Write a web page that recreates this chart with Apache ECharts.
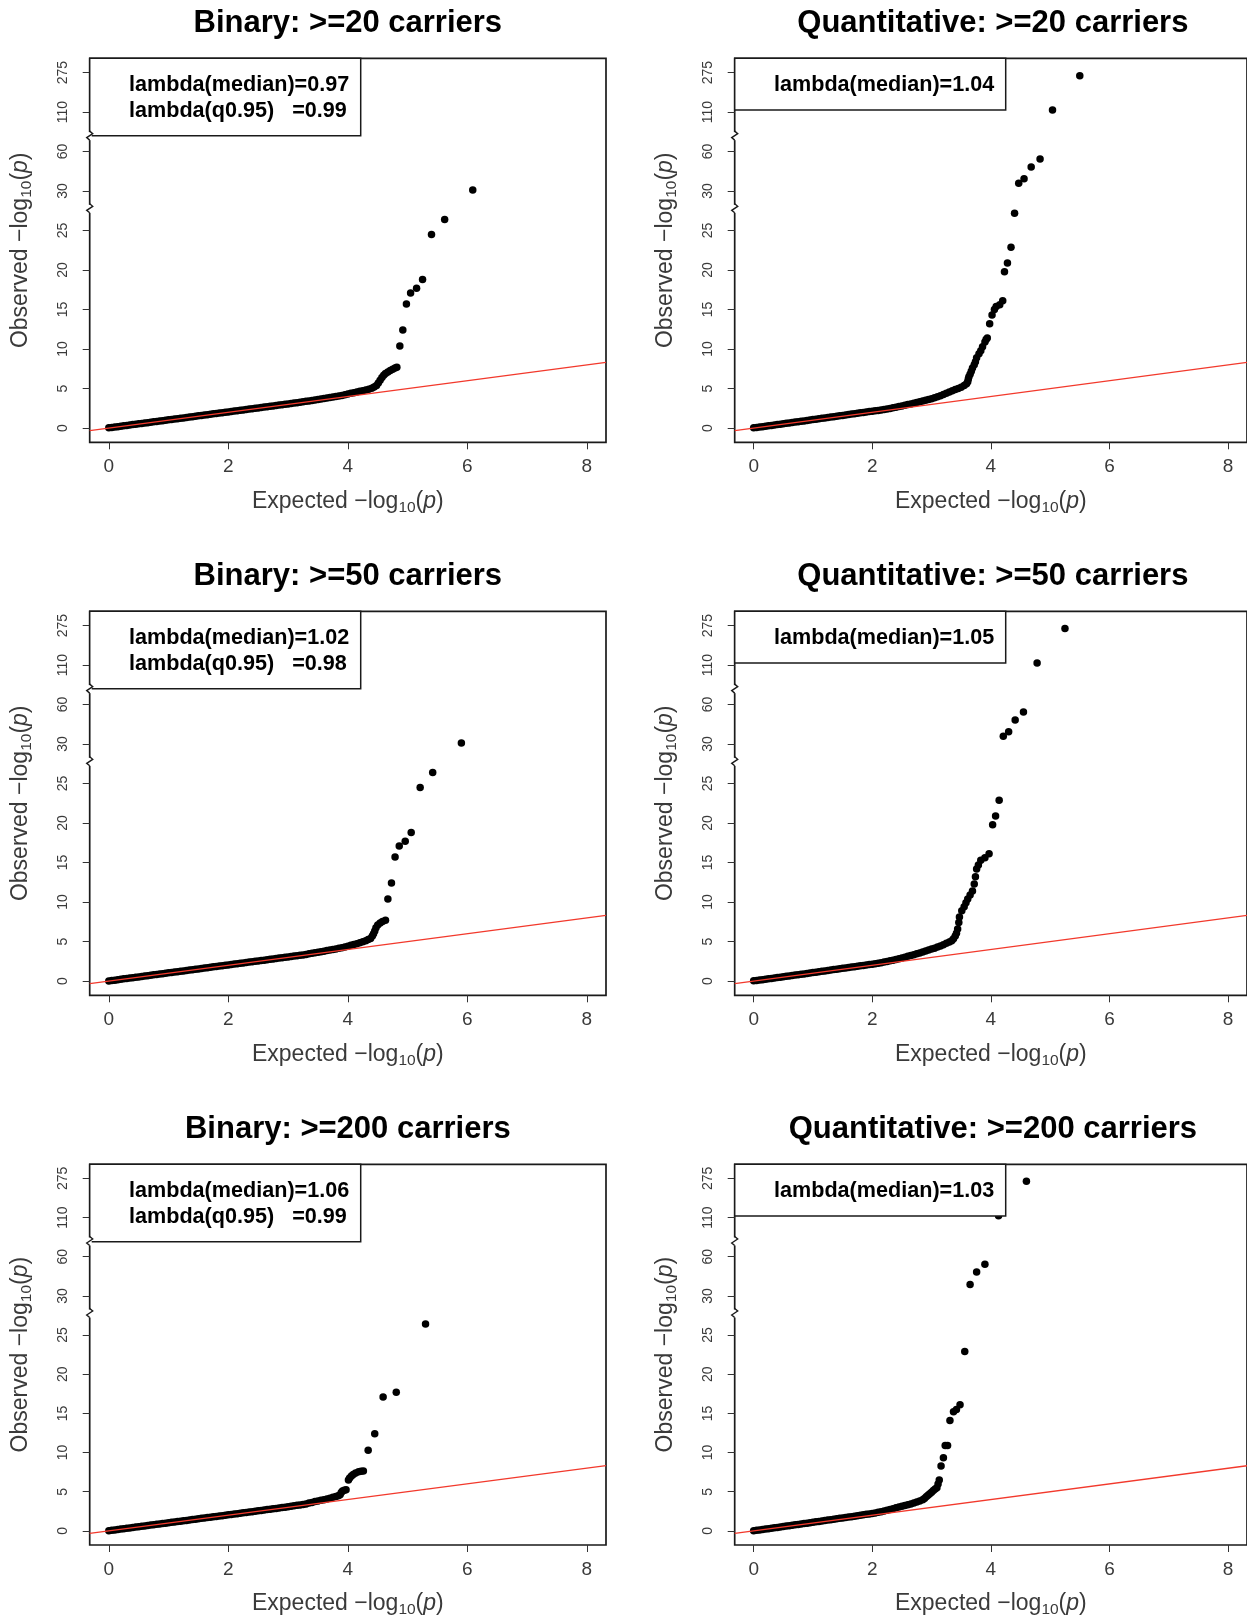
<!DOCTYPE html>
<html>
<head>
<meta charset="utf-8">
<script src="https://cdn.jsdelivr.net/npm/echarts@6/dist/echarts.min.js"></script>
<style>html,body{margin:0;padding:0;background:#fff}#main{width:1247px;height:1619px}</style>
</head>
<body>
<div id="main"></div>
<script>
// ---------- data ----------
const xTickValues = [0, 2, 4, 6, 8];
const yTickLabels = ['0', '5', '10', '15', '20', '25', '30', '60', '110', '275'];
const panelTitles = ['Binary: >=20 carriers', 'Quantitative: >=20 carriers',
  'Binary: >=50 carriers', 'Quantitative: >=50 carriers',
  'Binary: >=200 carriers', 'Quantitative: >=200 carriers'];
const lambdaMedian = ['0.97', '1.04', '1.02', '1.05', '1.06', '1.03'];
const lambdaQ95 = ['0.99', null, '0.98', null, '0.99', null];
const refLine = [[-0.32, -0.32], [8.32, 8.32]];

// [expected -log10 p, observed -log10 p]
const bin20 = [[0,0.03],[0.05,0.08],[0.1,0.13],[0.15,0.18],[0.2,0.23],[0.25,0.28],[0.3,0.33],[0.35,0.38],[0.4,0.44],[0.45,0.49],[0.5,0.54],[0.55,0.59],[0.6,0.64],[0.65,0.69],[0.7,0.74],[0.75,0.79],[0.8,0.84],[0.85,0.89],[0.9,0.94],[0.95,0.99],[1,1.04],[1.05,1.09],[1.1,1.14],[1.15,1.19],[1.2,1.24],[1.25,1.29],[1.3,1.34],[1.35,1.39],[1.4,1.44],[1.45,1.5],[1.5,1.55],[1.55,1.6],[1.6,1.65],[1.65,1.7],[1.7,1.75],[1.75,1.8],[1.8,1.85],[1.85,1.9],[1.9,1.95],[1.95,2],[2,2.05],[2.05,2.1],[2.1,2.15],[2.15,2.2],[2.2,2.25],[2.25,2.3],[2.3,2.35],[2.35,2.4],[2.4,2.45],[2.45,2.5],[2.5,2.55],[2.55,2.6],[2.6,2.66],[2.65,2.71],[2.7,2.76],[2.75,2.81],[2.8,2.86],[2.85,2.91],[2.9,2.96],[2.95,3.01],[3,3.06],[3.05,3.11],[3.1,3.16],[3.15,3.21],[3.2,3.26],
  [3.25,3.32],[3.3,3.38],[3.35,3.44],[3.4,3.5],[3.45,3.56],[3.5,3.62],[3.55,3.68],[3.6,3.74],[3.65,3.8],[3.7,3.86],[3.75,3.92],[3.8,3.99],[3.85,4.06],[3.9,4.13],[3.95,4.21],[4,4.3],[4.05,4.4],[4.1,4.48],[4.15,4.56],[4.2,4.65],[4.25,4.74],[4.3,4.83],[4.35,4.92],[4.4,5.05],[4.44,5.2],[4.48,5.4],[4.51,5.7],[4.54,6.05],[4.57,6.4],[4.6,6.7],[4.63,6.9],[4.67,7.1],[4.71,7.3],[4.75,7.45],[4.79,7.6],[4.82,7.7],
  [4.87,10.4],[4.92,12.4],[4.98,15.7],[5.05,17.1],[5.15,17.7],[5.25,18.8],[5.4,24.5],[5.62,26.4],[6.09,30.8]];

const bin50 = [[0,0.02],[0.05,0.07],[0.1,0.12],[0.15,0.17],[0.2,0.22],[0.25,0.28],[0.3,0.33],[0.35,0.38],[0.4,0.43],[0.45,0.48],[0.5,0.53],[0.55,0.58],[0.6,0.63],[0.65,0.68],[0.7,0.74],[0.75,0.79],[0.8,0.84],[0.85,0.89],[0.9,0.94],[0.95,0.99],[1,1.04],[1.05,1.09],[1.1,1.14],[1.15,1.19],[1.2,1.24],[1.25,1.29],[1.3,1.34],[1.35,1.39],[1.4,1.44],[1.45,1.49],[1.5,1.54],[1.55,1.6],[1.6,1.65],[1.65,1.7],[1.7,1.75],[1.75,1.8],[1.8,1.85],[1.85,1.9],[1.9,1.95],[1.95,2],[2,2.05],[2.05,2.1],[2.1,2.15],[2.15,2.2],[2.2,2.25],[2.25,2.3],[2.3,2.35],[2.35,2.4],[2.4,2.45],[2.45,2.5],[2.5,2.55],[2.55,2.6],[2.6,2.65],[2.65,2.7],[2.7,2.76],[2.75,2.81],[2.8,2.86],[2.85,2.91],[2.9,2.96],[2.95,3.01],[3,3.06],[3.05,3.11],[3.1,3.16],[3.15,3.21],[3.2,3.26],
  [3.25,3.31],[3.3,3.37],[3.35,3.45],[3.4,3.52],[3.45,3.58],[3.5,3.64],[3.55,3.7],[3.6,3.78],[3.65,3.86],[3.7,3.93],[3.75,4],[3.8,4.07],[3.85,4.14],[3.9,4.22],[3.95,4.32],[4,4.42],[4.05,4.52],[4.1,4.62],[4.15,4.74],[4.2,4.86],[4.25,4.98],[4.3,5.1],[4.34,5.25],[4.38,5.4],[4.41,5.7],[4.43,6],[4.45,6.35],[4.47,6.75],[4.5,7.1],[4.54,7.35],[4.58,7.55],[4.63,7.7],
  [4.67,10.4],[4.73,12.4],[4.79,15.7],[4.86,17.1],[4.96,17.7],[5.06,18.8],[5.21,24.5],[5.42,26.4],[5.9,30.8]];

const bin200 = [[0,0.03],[0.05,0.08],[0.1,0.13],[0.15,0.18],[0.2,0.23],[0.25,0.28],[0.3,0.33],[0.35,0.38],[0.4,0.43],[0.45,0.49],[0.5,0.54],[0.55,0.59],[0.6,0.64],[0.65,0.69],[0.7,0.74],[0.75,0.79],[0.8,0.84],[0.85,0.89],[0.9,0.94],[0.95,0.99],[1,1.04],[1.05,1.09],[1.1,1.14],[1.15,1.19],[1.2,1.24],[1.25,1.29],[1.3,1.34],[1.35,1.39],[1.4,1.45],[1.45,1.5],[1.5,1.55],[1.55,1.6],[1.6,1.65],[1.65,1.7],[1.7,1.75],[1.75,1.8],[1.8,1.85],[1.85,1.9],[1.9,1.95],[1.95,2],[2,2.05],[2.05,2.1],[2.1,2.15],[2.15,2.2],[2.2,2.26],[2.25,2.31],[2.3,2.36],[2.35,2.41],[2.4,2.46],[2.45,2.51],[2.5,2.56],[2.55,2.61],[2.6,2.67],[2.65,2.72],[2.7,2.77],[2.75,2.82],[2.8,2.87],[2.85,2.92],[2.9,2.98],[2.95,3.03],[3,3.09],[3.05,3.14],[3.1,3.2],[3.15,3.26],[3.2,3.31],
  [3.25,3.36],[3.3,3.45],[3.35,3.56],[3.4,3.64],[3.45,3.74],[3.5,3.82],[3.55,3.9],[3.6,3.98],[3.65,4.08],[3.7,4.18],[3.75,4.28],[3.8,4.38],[3.84,4.48],[3.87,4.62],[3.89,4.9],[3.91,5.1],[3.94,5.2],[3.97,5.25],[4.01,6.5],[4.03,6.75],[4.06,7],[4.09,7.2],[4.13,7.4],[4.18,7.55],[4.22,7.6],[4.26,7.65],
  [4.34,10.3],[4.45,12.4],[4.59,17.1],[4.81,17.7],[5.3,26.4]];

const quant20 = [[0,0.03],[0.05,0.08],[0.1,0.13],[0.15,0.18],[0.2,0.23],[0.25,0.29],[0.3,0.34],[0.35,0.39],[0.4,0.44],[0.45,0.49],[0.5,0.55],[0.55,0.6],[0.6,0.65],[0.65,0.7],[0.7,0.76],[0.75,0.81],[0.8,0.86],[0.85,0.91],[0.9,0.97],[0.95,1.02],[1,1.07],[1.05,1.12],[1.1,1.18],[1.15,1.23],[1.2,1.28],[1.25,1.34],[1.3,1.39],[1.35,1.44],[1.4,1.5],[1.45,1.55],[1.5,1.6],[1.55,1.66],[1.6,1.71],[1.65,1.77],[1.7,1.82],[1.75,1.87],[1.8,1.93],[1.85,1.98],[1.9,2.03],[1.95,2.09],[2,2.14],
  [2.05,2.19],[2.1,2.24],[2.15,2.29],[2.2,2.35],[2.25,2.41],[2.3,2.48],[2.35,2.56],[2.4,2.64],[2.45,2.72],[2.5,2.8],[2.55,2.88],[2.6,2.97],[2.65,3.06],[2.7,3.15],[2.75,3.24],[2.8,3.33],[2.85,3.42],[2.9,3.52],[2.95,3.62],[3,3.72],[3.05,3.84],[3.1,3.96],[3.15,4.1],[3.2,4.24],[3.25,4.4],[3.3,4.56],[3.35,4.72],[3.4,4.88],[3.45,5.02],[3.5,5.18],[3.55,5.38],[3.59,5.6],[3.61,5.85],[3.62,6.2],[3.63,6.5],[3.65,6.8],[3.67,7.2],[3.69,7.6],[3.72,8],[3.74,8.4],[3.76,8.9],[3.8,9.4],[3.83,9.8],[3.86,10.3],[3.9,10.9],[3.92,11.2],[3.94,11.4],
  [3.98,13.2],[4.02,14.3],[4.06,15],[4.09,15.4],[4.15,15.6],[4.2,16.1],[4.23,19.8],[4.28,20.9],[4.34,22.9],[4.4,27.2],[4.47,36],[4.56,39.3],[4.68,48.3],[4.83,54.3],[5.04,118],[5.5,262]];

const quant50 = [[0,0.03],[0.05,0.08],[0.1,0.13],[0.15,0.18],[0.2,0.23],[0.25,0.28],[0.3,0.34],[0.35,0.39],[0.4,0.44],[0.45,0.49],[0.5,0.55],[0.55,0.6],[0.6,0.65],[0.65,0.7],[0.7,0.76],[0.75,0.81],[0.8,0.86],[0.85,0.91],[0.9,0.97],[0.95,1.02],[1,1.07],[1.05,1.12],[1.1,1.18],[1.15,1.23],[1.2,1.28],[1.25,1.34],[1.3,1.39],[1.35,1.45],[1.4,1.5],[1.45,1.55],[1.5,1.61],[1.55,1.66],[1.6,1.71],[1.65,1.77],[1.7,1.82],[1.75,1.88],[1.8,1.93],[1.85,1.98],[1.9,2.04],[1.95,2.09],[2,2.14],
  [2.05,2.2],[2.1,2.26],[2.15,2.33],[2.2,2.4],[2.25,2.48],[2.3,2.56],[2.35,2.65],[2.4,2.74],[2.45,2.83],[2.5,2.93],[2.55,3.03],[2.6,3.13],[2.65,3.23],[2.7,3.34],[2.75,3.45],[2.8,3.56],[2.85,3.68],[2.9,3.8],[2.95,3.93],[3,4.05],[3.05,4.17],[3.1,4.3],[3.15,4.44],[3.2,4.6],[3.25,4.78],[3.3,4.95],[3.34,5.1],[3.37,5.35],[3.4,5.7],[3.42,6.05],[3.44,6.6],[3.46,7.4],[3.47,8.1],[3.51,8.9],[3.55,9.4],[3.58,9.9],[3.61,10.4],[3.65,10.9],[3.69,11.4],[3.72,12.3],[3.74,13.2],[3.76,14.2],[3.79,14.7],[3.83,15.3],[3.9,15.6],[3.97,16.1],
  [4.03,19.8],[4.08,20.9],[4.14,22.9],[4.21,36],[4.3,39.3],[4.41,48.3],[4.55,54.3],[4.78,118],[5.25,263]];

const quant200 = [[0,0.03],[0.05,0.08],[0.1,0.13],[0.15,0.18],[0.2,0.24],[0.25,0.29],[0.3,0.34],[0.35,0.4],[0.4,0.45],[0.45,0.5],[0.5,0.57],[0.55,0.62],[0.6,0.67],[0.65,0.72],[0.7,0.78],[0.75,0.83],[0.8,0.88],[0.85,0.94],[0.9,0.99],[0.95,1.05],[1,1.11],[1.05,1.16],[1.1,1.21],[1.15,1.27],[1.2,1.32],[1.25,1.38],[1.3,1.43],[1.35,1.49],[1.4,1.54],[1.45,1.6],[1.5,1.66],[1.55,1.71],[1.6,1.77],[1.65,1.82],[1.7,1.88],[1.75,1.94],[1.8,2],[1.85,2.05],[1.9,2.11],[1.95,2.17],[2,2.22],
  [2.05,2.3],[2.1,2.38],[2.15,2.46],[2.2,2.55],[2.25,2.64],[2.3,2.74],[2.35,2.84],[2.4,2.94],[2.45,3.04],[2.5,3.14],[2.55,3.24],[2.6,3.34],[2.65,3.44],[2.7,3.55],[2.75,3.68],[2.8,3.82],[2.85,3.98],[2.88,4.15],[2.91,4.35],[2.94,4.55],[2.97,4.75],[3,4.95],[3.03,5.15],[3.06,5.35],[3.09,5.5],[3.11,6],[3.13,6.5],
  [3.16,8.3],[3.2,9.35],[3.23,10.9],[3.27,10.9],[3.31,14.1],[3.37,15.2],[3.42,15.5],[3.48,16.1],[3.56,22.9],[3.65,38.8],[3.76,48.3],[3.9,54.3],[4.13,118],[4.6,263]];

const panelData = [bin20, quant20, bin50, quant50, bin200, quant200];

// ---------- broken y scale: observed value -> axis position ----------
function toSlot(v) {
  if (v <= 30) return v / 5;
  if (v <= 60) return 6 + (v - 30) / 30;
  if (v <= 110) return 7 + (v - 60) / 50;
  return 8 + (v - 110) / 165;
}

// ---------- layout ----------
const FONT = '"Liberation Sans", Arial, Helvetica, sans-serif';
const NARROW = '"Liberation Sans Narrow", "Liberation Sans", Arial, sans-serif';
const colLeft = [89.7, 734.7];
const rowTop = [58.3, 611.3, 1164.3];
const plotW = 516.3, plotH = 384;
const Y_MIN = -0.36, Y_MAX = 9.36, X_MIN = -0.32, X_MAX = 8.32;
const breakSlots = [5.55, 7.39];

const chart = echarts.init(document.getElementById('main'), null, {renderer: 'canvas'});

const grids = [], xAxes = [], yAxes = [], series = [];
const nameRich = {
  t: {fontSize: 23, color: '#3a3a3a', fontFamily: FONT},
  s: {fontSize: 15.5, color: '#3a3a3a', fontFamily: FONT, padding: [12, 0, 0, 0]},
  p: {fontSize: 23, color: '#3a3a3a', fontFamily: FONT, fontStyle: 'italic'}
};
for (let i = 0; i < 6; i++) {
  const col = i % 2, row = Math.floor(i / 2);
  grids.push({left: colLeft[col], top: rowTop[row], width: plotW, height: plotH,
    show: true, borderColor: '#1a1a1a', borderWidth: 1.7, backgroundColor: 'transparent', containLabel: false});
  xAxes.push({
    gridIndex: i, type: 'value', min: X_MIN, max: X_MAX,
    splitLine: {show: false},
    axisLine: {show: false, onZero: false},
    axisTick: {show: true, customValues: xTickValues, length: 7, lineStyle: {color: '#333', width: 1}},
    axisLabel: {customValues: xTickValues, fontSize: 19, color: '#3a3a3a', fontFamily: FONT, margin: 15},
    name: '{t|Expected }{t|\u2212log}{s|10}{t|(}{p|p}{t|)}',
    nameLocation: 'middle', nameGap: 45,
    nameTextStyle: {rich: nameRich}
  });
  yAxes.push({
    gridIndex: i, type: 'value', min: Y_MIN, max: Y_MAX,
    splitLine: {show: false},
    axisLine: {show: false, onZero: false},
    axisTick: {show: true, customValues: [0,1,2,3,4,5,6,7,8,9], length: 7, lineStyle: {color: '#333', width: 1}},
    axisLabel: {customValues: [0,1,2,3,4,5,6,7,8,9], rotate: 90, fontSize: 14, color: '#3a3a3a',
      fontFamily: NARROW, margin: 20,
      formatter: v => yTickLabels[Math.round(v)]},
    name: '{t|Observed }{t|\u2212log}{s|10}{t|(}{p|p}{t|)}',
    nameLocation: 'middle', nameRotate: 90, nameGap: 55,
    nameTextStyle: {rich: nameRich}
  });
  series.push({
    type: 'scatter', xAxisIndex: i, yAxisIndex: i, symbol: 'circle', symbolSize: 7.5,
    itemStyle: {color: '#000', opacity: 1}, silent: true, z: 2,
    data: panelData[i].map(d => [d[0], toSlot(d[1])])
  });
  series.push({
    type: 'line', xAxisIndex: i, yAxisIndex: i, symbol: 'none', silent: true, z: 3,
    lineStyle: {color: '#f2392c', width: 1.3}, clip: true,
    data: refLine.map(d => [d[0], d[1] / 5])
  });
}

chart.setOption({animation: false, backgroundColor: '#fff', grid: grids, xAxis: xAxes, yAxis: yAxes, series: series});

// ---------- titles, legend boxes, axis-break marks ----------
const graphics = [];
for (let i = 0; i < 6; i++) {
  const col = i % 2, row = Math.floor(i / 2);
  const left = colLeft[col], top = rowTop[row];
  graphics.push({type: 'text', z: 10, style: {
    text: panelTitles[i], x: left + plotW / 2, y: top - 35,
    font: 'bold 31px ' + FONT, fill: '#000', align: 'center', verticalAlign: 'middle',
    textAlign: 'center', textVerticalAlign: 'middle'}});
  const two = lambdaQ95[i] !== null;
  const boxH = two ? 77.4 : 51.7;
  graphics.push({type: 'rect', z: 10, shape: {x: left, y: top, width: 271, height: boxH},
    style: {fill: '#fff', stroke: '#1a1a1a', lineWidth: 1.5}});
  graphics.push({type: 'text', z: 11, style: {
    text: 'lambda(median)=' + lambdaMedian[i], x: left + 39.3, y: top + 26.7,
    font: 'bold 21.6px ' + FONT, fill: '#000', align: 'left', verticalAlign: 'middle',
    textAlign: 'left', textVerticalAlign: 'middle'}});
  if (two) {
    graphics.push({type: 'text', z: 11, style: {
      text: 'lambda(q0.95)   =' + lambdaQ95[i], x: left + 39.3, y: top + 52.4,
      font: 'bold 21.6px ' + FONT, fill: '#000', align: 'left', verticalAlign: 'middle',
      textAlign: 'left', textVerticalAlign: 'middle'}});
  }
  breakSlots.forEach(s => {
    const p = chart.convertToPixel({gridIndex: i}, [X_MIN, s]);
    const x = left, y = p[1];
    graphics.push({type: 'rect', z: 12, shape: {x: x - 2, y: y - 4, width: 4, height: 8},
      style: {fill: '#fff', stroke: null}});
    graphics.push({type: 'polyline', z: 13,
      shape: {points: [[x, y - 5], [x + 3, y - 2.5], [x - 3, y + 1.5], [x, y + 4]]},
      style: {stroke: '#1a1a1a', lineWidth: 1.4, fill: null}});
  });
}
chart.setOption({graphic: {elements: graphics}});
</script>
</body>
</html>
